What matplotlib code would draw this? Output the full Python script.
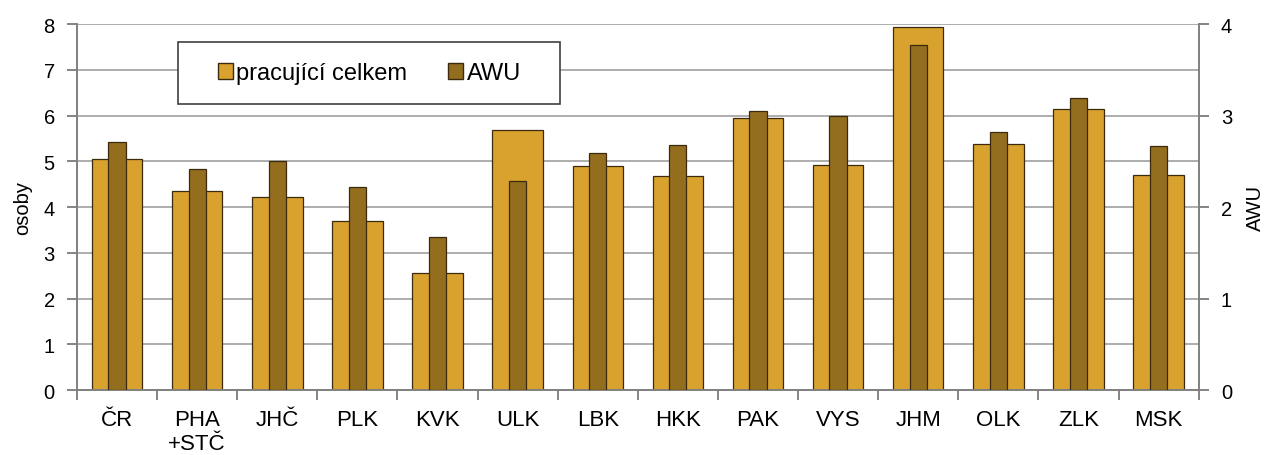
import numpy as np
import matplotlib
matplotlib.use('Agg')
import matplotlib.pyplot as plt
from matplotlib.patches import Patch, Rectangle

plt.rcParams['font.family'] = ['Liberation Sans', 'DejaVu Sans']

# Data
regions = ['ČR', 'PHA\n+STČ', 'JHČ', 'PLK', 'KVK', 'ULK', 'LBK', 'HKK',
           'PAK', 'VYS', 'JHM', 'OLK', 'ZLK', 'MSK']
pracujici = [5.04, 4.34, 4.22, 3.69, 2.56, 5.68, 4.90, 4.67,
             5.95, 4.93, 7.93, 5.38, 6.14, 4.70]
awu = [2.71, 2.42, 2.50, 2.22, 1.67, 2.28, 2.59, 2.68,
       3.05, 3.00, 3.77, 2.82, 3.19, 2.67]

gold = '#D9A22E'
brown = '#936E1F'
edge = '#3B2A0E'
grid_col = '#A0A0A0'

fig = plt.figure(figsize=(12.66, 4.56), dpi=100)
ax = fig.add_axes([0.0608, 0.1425, 0.886, 0.8025])
ax2 = ax.twinx()

x = np.arange(len(regions))
ax.bar(x, pracujici, width=0.63, color=gold, edgecolor=edge, linewidth=0.9, zorder=2)
ax2.bar(x, awu, width=0.215, color=brown, edgecolor=edge, linewidth=0.9, zorder=3)

ax.set_xlim(-0.5, len(regions) - 0.5)
ax.set_ylim(0, 8)
ax2.set_ylim(0, 4)
ax.set_yticks(range(0, 9))
ax2.set_yticks(range(0, 5))
ax.yaxis.grid(True, color=grid_col, linewidth=1.2, zorder=0)
ax.set_axisbelow(True)

# category labels sit between the tick marks
ax.set_xticks(np.arange(-0.5, len(regions), 1.0))
ax.set_xticklabels([])
ax.set_xticks(x, minor=True)
ax.set_xticklabels(regions, minor=True, fontsize=16, linespacing=1.15)
ax.tick_params(axis='x', which='minor', length=0, pad=14)
ax.tick_params(axis='x', which='major', length=7, direction='out', color='#707070', width=1.2)
ax.tick_params(axis='y', labelsize=14.5, length=7, pad=9, color='#707070', width=1.2)
ax2.tick_params(axis='y', labelsize=14.5, length=7, pad=9, color='#707070', width=1.2)

for a in (ax, ax2):
    for s in a.spines.values():
        s.set_color('#808080')
        s.set_linewidth(1.2)
ax.spines['top'].set_visible(False)
ax2.spines['top'].set_visible(False)

ax.set_ylabel('osoby', fontsize=14.5, labelpad=8)
ax2.set_ylabel('AWU', fontsize=14.5, labelpad=10)

# legend box drawn separately, legend text centred inside it
box = Rectangle((0.09, 0.781), 0.341, 0.17, transform=ax2.transAxes,
                facecolor='white', edgecolor='#404040', linewidth=1.2, zorder=5)
ax2.add_patch(box)
handles = [Patch(facecolor=gold, edgecolor=edge, label='pracující celkem'),
           Patch(facecolor=brown, edgecolor=edge, label='AWU')]
leg = ax2.legend(handles=handles, loc='center', bbox_to_anchor=(0.09 + 0.341 / 2, 0.781 + 0.085),
                 ncol=2, fontsize=17, frameon=False,
                 handlelength=0.65, handleheight=0.65, handletextpad=0.15,
                 borderpad=0, borderaxespad=0, columnspacing=1.7)
leg.set_zorder(6)

fig.savefig('out.png', dpi=100)
